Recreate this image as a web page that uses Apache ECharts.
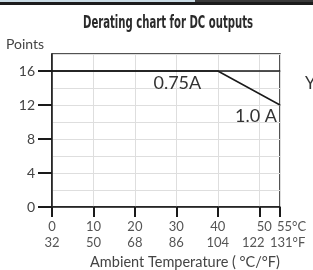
<!DOCTYPE html>
<html>
<head>
<meta charset="utf-8">
<script src="https://cdn.jsdelivr.net/npm/echarts@6/dist/echarts.min.js"></script>
<style>
  html, body { margin: 0; padding: 0; background: #fff; }
  #main { width: 313px; height: 270px; }
</style>
</head>
<body>
<div id="main"></div>
<script>
// temperature ticks, celsius and fahrenheit
var tempC = [0, 10, 20, 30, 40, 50, 55];
var tempF = [32, 50, 68, 86, 104, 122, 131];
var pointTicks = [0, 4, 8, 12, 16];

// derating curves (x = °C, y = points)
var curve075 = [[0, 16], [30, 16], [55, 16]];
var curve10 = [[0, 16], [40, 16], [55, 12]];

var chart = echarts.init(document.getElementById('main'));

var cv = document.createElement('canvas').getContext('2d');

// squeeze the title to the width of the original condensed font
var titleText = 'Derating chart for DC outputs';
var titleFont = 'bold 18px "DejaVu Sans"';
cv.font = titleFont;
var titleScale = 170 / cv.measureText(titleText).width;

var lastC = tempC[tempC.length - 1];
var lastF = tempF[tempF.length - 1];
var lastTextC = lastC + '°C';
var lastTextF = lastF + '°F';

// end label: "55°C" starts just left of its tick, "131°F" sits further left
cv.font = '13px Lato';
var w1 = cv.measureText(lastTextC).width;
var padC = w1 + 2 * -3;
var padF = -10 + (padC + w1) / 2;

var curveLabel = {
  show: true,
  position: 'bottom',
  distance: 4,
  color: '#333',
  fontFamily: 'Lato',
  fontSize: 18
};

var labelFont = { fontFamily: 'Lato', fontSize: 13, color: '#555', lineHeight: 16 };

var option = {
  animation: false,
  grid: {
    left: 52,
    right: 33,
    top: 54,
    bottom: 63,
    show: true,
    borderColor: '#1a1a1a',
    borderWidth: 1.5
  },
  xAxis: [{
    type: 'value',
    min: 0,
    max: 55,
    interval: 10,
    axisLine: { lineStyle: { color: '#1a1a1a', width: 1.5 } },
    axisTick: {
      length: 10,
      customValues: tempC,
      lineStyle: { color: '#1a1a1a', width: 2 }
    },
    axisLabel: Object.assign({
      customValues: tempC.slice(0, -1),
      margin: 12,
      formatter: function (v) {
        var f = tempF[tempC.indexOf(v)];
        if (v === 50) {
          return '{r|' + v + '}\n{l|' + f + '}';
        }
        return '{n|' + v + '}\n{n|' + f + '}';
      },
      rich: {
        n: labelFont,
        r: Object.assign({ padding: [0, 0, 0, 10] }, labelFont),
        l: Object.assign({ padding: [0, 12, 0, 0] }, labelFont)
      }
    }, labelFont),
    splitLine: { show: true, lineStyle: { color: '#dedede', width: 1 } }
  }, {
    // end label 55°C / 131°F, kept on its own axis so it doesn't knock out "50"
    type: 'value',
    min: 0,
    max: 55,
    position: 'bottom',
    axisLine: { show: false },
    axisTick: { show: false },
    splitLine: { show: false },
    axisLabel: Object.assign({
      customValues: [lastC],
      margin: 12,
      formatter: function () {
        return '{c|' + lastTextC + '}\n{f|' + lastTextF + '}';
      },
      rich: {
        c: Object.assign({ align: 'left', padding: [0, 0, 0, padC] }, labelFont),
        f: Object.assign({ align: 'left', padding: [0, 0, 0, padF] }, labelFont)
      }
    }, labelFont)
  }],
  yAxis: [{
    type: 'value',
    min: 0,
    max: 18,
    interval: 4,
    axisLine: { show: true, lineStyle: { color: '#1a1a1a', width: 1.5 } },
    axisTick: {
      show: true,
      length: 14,
      customValues: pointTicks,
      lineStyle: { color: '#1a1a1a', width: 2 }
    },
    axisLabel: {
      customValues: pointTicks,
      margin: 17,
      color: '#444',
      fontFamily: 'Lato',
      fontSize: 14
    },
    splitLine: { show: false }
  }, {
    // only for the 2-point grid lines
    type: 'value',
    min: 0,
    max: 18,
    interval: 2,
    position: 'left',
    axisLine: { show: false },
    axisTick: { show: false },
    axisLabel: { show: false },
    splitLine: { show: true, lineStyle: { color: '#dedede', width: 1 } }
  }],
  series: [{
    name: '0.75A',
    type: 'line',
    symbol: 'circle',
    symbolSize: 1,
    itemStyle: { color: '#1a1a1a' },
    lineStyle: { color: '#1a1a1a', width: 1.5 },
    data: [
      curve075[0],
      {
        value: curve075[1],
        label: Object.assign({}, curveLabel, { offset: [1, -1], formatter: '0.75A' })
      },
      curve075[2]
    ],
    z: 3
  }, {
    name: '1.0 A',
    type: 'line',
    symbol: 'circle',
    symbolSize: 1,
    itemStyle: { color: '#1a1a1a' },
    lineStyle: { color: '#1a1a1a', width: 1.5 },
    data: [
      curve10[0],
      curve10[1],
      {
        value: curve10[2],
        label: Object.assign({}, curveLabel, { offset: [-24, -2], formatter: '1.0 A' })
      }
    ],
    z: 3
  }],
  graphic: [
    { type: 'rect', shape: { x: 0, y: 0, width: 195, height: 2 }, style: { fill: '#c9dbe5' } },
    { type: 'rect', shape: { x: 195, y: 0, width: 118, height: 2 }, style: { fill: '#3a3a3a' } },
    { type: 'rect', shape: { x: 0, y: 2, width: 313, height: 3 }, style: { fill: '#1c1c1c' } },
    {
      type: 'text',
      x: 168,
      y: 23,
      scaleX: titleScale,
      style: {
        text: titleText,
        font: titleFont,
        fill: '#2a2a2a',
        textAlign: 'center',
        textVerticalAlign: 'middle'
      }
    },
    {
      type: 'text',
      x: 6,
      y: 44,
      style: {
        text: 'Points',
        font: '14px Lato',
        fill: '#444',
        textAlign: 'left',
        textVerticalAlign: 'middle'
      }
    },
    {
      type: 'text',
      x: 305,
      y: 84,
      style: {
        text: 'Y',
        font: '17px Lato',
        fill: '#333',
        textAlign: 'left',
        textVerticalAlign: 'middle'
      }
    },
    {
      type: 'text',
      x: 185,
      y: 262,
      style: {
        text: 'Ambient Temperature ( °C/°F)',
        font: '14.5px Lato',
        fill: '#444',
        textAlign: 'center',
        textVerticalAlign: 'middle'
      }
    }
  ]
};

chart.setOption(option);
</script>
</body>
</html>
